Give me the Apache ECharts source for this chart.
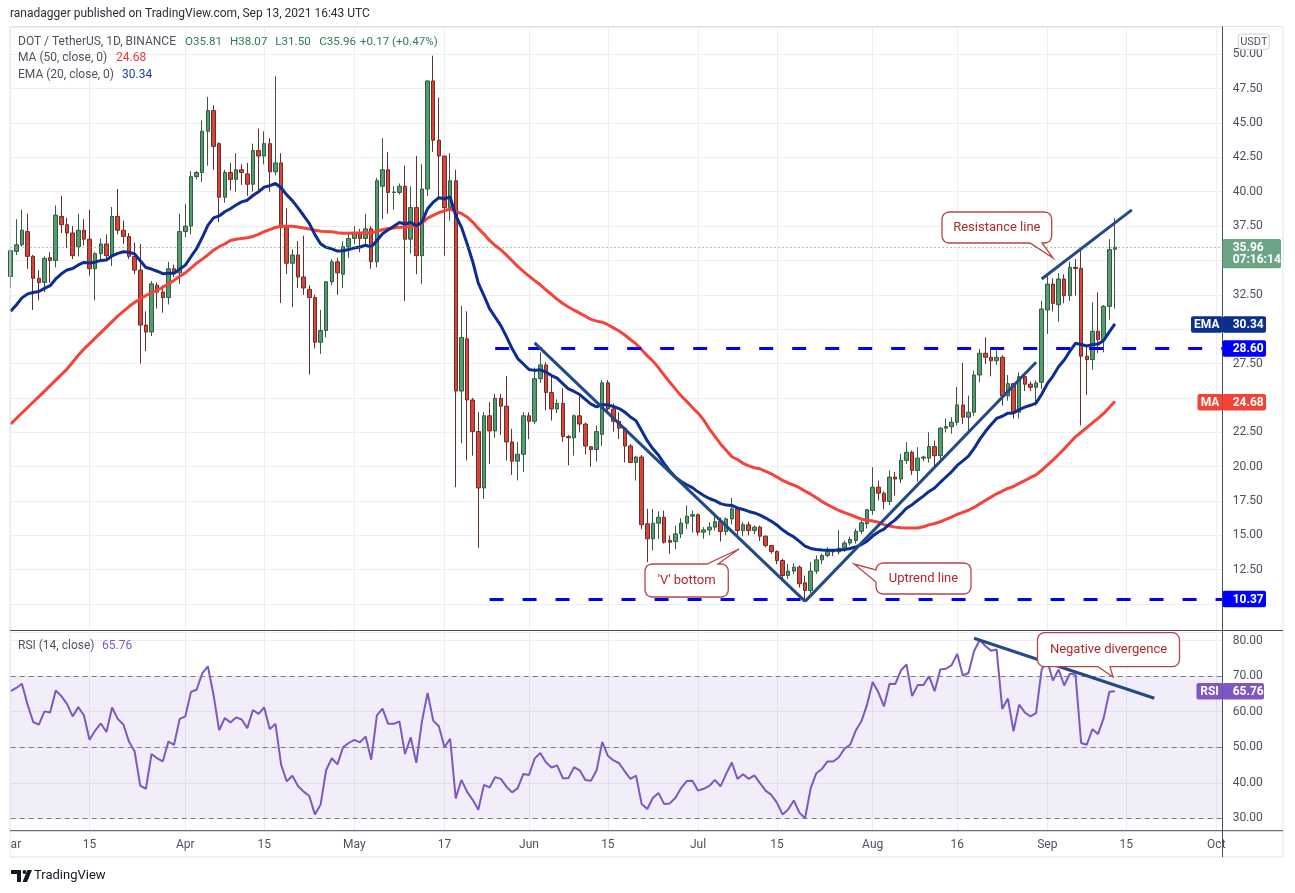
<!DOCTYPE html>
<html>
<head>
<meta charset="utf-8">
<title>DOT / TetherUS 1D</title>
<script src="https://cdn.jsdelivr.net/npm/echarts@6.0.0/dist/echarts.min.js"></script>
<style>
html,body{margin:0;padding:0;background:#ffffff;}
#chart{width:1295px;height:893px;}
</style>
</head>
<body>
<div id="chart"></div>
<script>
// ---------------- data ----------------
const startDate = '2021-03-01';
const dayCount = 216;

const open = [
33.84,35.66,36.14,37.10,35.30,33.70,33.40,35.20,35.00,38.20,
37.60,37.00,36.00,37.20,36.55,34.40,35.50,36.20,35.35,38.20,
37.20,36.75,35.30,34.30,30.30,29.80,33.20,32.70,32.30,34.40,
34.10,37.10,37.50,41.10,41.40,44.40,45.90,43.50,39.60,41.40,
40.90,41.60,41.30,40.55,43.00,42.60,43.50,41.45,42.10,37.40,
34.80,35.40,33.80,32.90,32.30,29.05,29.90,33.45,34.90,34.00,
36.00,36.60,37.00,36.60,37.30,34.90,40.40,41.60,39.95,39.95,
40.40,36.55,38.85,35.35,40.20,48.06,43.75,42.60,38.85,40.80,
25.50,29.30,24.85,22.55,18.45,23.70,22.60,24.97,24.40,21.80,
20.40,20.90,23.70,23.30,26.40,27.40,25.40,24.20,24.60,22.20,
22.10,23.70,23.10,21.45,21.25,22.35,26.10,24.20,23.30,22.80,
21.50,20.30,20.70,15.84,14.75,15.89,16.32,14.63,14.55,15.11,
15.89,16.40,16.50,15.23,15.40,15.60,16.00,15.28,16.20,16.93,
15.35,15.77,15.35,15.60,14.94,14.26,13.83,13.17,12.08,12.40,
12.69,11.55,10.99,12.40,13.22,13.54,13.90,13.80,14.07,14.44,
14.63,15.30,15.85,16.81,18.51,18.07,17.47,19.24,19.10,20.45,
21.05,19.72,20.62,20.62,21.46,20.80,22.80,22.90,23.23,24.49,
23.60,23.96,26.67,28.25,27.96,27.70,27.96,25.14,26.04,23.96,
26.55,26.00,25.77,26.14,31.40,33.28,31.78,33.65,32.44,34.50,
34.42,28.03,27.79,29.85,29.24,31.66,35.81];

const high = [
35.80,38.00,38.70,38.40,35.40,34.30,35.30,35.60,39.00,39.70,
38.10,37.50,38.40,38.00,38.70,35.60,36.60,36.90,38.90,40.20,
37.90,37.00,36.30,36.20,31.30,33.50,33.40,33.20,34.90,34.70,
38.40,39.10,41.50,41.50,45.20,46.90,46.30,43.60,41.60,42.10,
42.80,42.00,42.10,43.50,44.60,44.40,43.90,48.40,42.80,38.80,
35.80,36.40,36.80,33.20,32.50,31.40,33.50,35.10,35.20,36.40,
37.00,37.50,37.30,38.40,37.50,41.00,43.90,42.90,40.40,40.60,
41.90,40.40,42.60,42.00,48.10,49.90,46.85,42.60,42.80,41.60,
31.70,31.30,25.00,23.96,23.96,24.70,25.30,25.30,26.60,22.75,
21.80,23.96,23.96,27.20,28.30,27.60,26.70,24.90,25.70,22.30,
23.80,25.10,23.20,21.50,22.99,26.30,26.30,24.60,23.95,22.85,
21.65,20.80,20.85,16.93,16.93,16.74,16.80,14.99,15.72,16.25,
17.17,16.80,16.60,15.60,15.96,16.64,16.30,16.30,17.73,16.98,
15.96,16.00,15.72,15.72,15.00,14.30,13.90,13.30,12.93,12.98,
12.81,12.08,13.05,13.54,13.66,14.14,13.95,15.40,14.63,14.90,
15.48,16.10,16.93,19.96,18.99,18.20,19.72,19.60,20.93,21.78,
21.17,21.42,20.80,22.50,21.90,22.87,23.50,23.60,25.80,27.55,
25.17,26.99,28.56,29.41,28.56,28.68,28.10,26.67,26.10,26.86,
26.86,26.20,26.26,32.07,33.89,33.70,34.08,34.00,34.91,35.10,
35.83,28.68,31.95,32.68,31.76,36.55,38.07];

const low = [
33.00,35.40,36.00,34.40,31.40,32.10,32.70,33.40,34.50,37.00,
35.90,35.10,35.30,36.10,33.90,32.10,35.00,35.00,34.60,36.90,
36.20,35.10,34.00,27.50,28.40,29.50,31.50,31.20,31.80,33.80,
33.30,36.70,36.90,40.90,40.70,41.90,41.60,37.80,39.20,40.10,
40.00,40.50,39.70,40.00,39.90,42.00,40.00,41.20,31.90,34.00,
31.60,33.00,32.50,26.70,28.60,28.20,29.40,33.20,32.50,33.00,
35.20,36.20,35.60,36.20,34.40,34.50,38.00,38.40,38.70,39.80,
32.07,35.50,34.00,33.30,39.70,42.90,39.50,35.35,37.90,18.50,
21.70,20.45,20.80,14.10,17.66,20.20,22.10,22.30,20.45,19.40,
19.00,19.60,22.00,23.10,26.10,24.10,23.35,23.90,21.80,20.10,
20.80,22.50,20.90,20.00,20.37,21.50,23.90,22.55,22.00,20.30,
20.30,18.99,15.47,13.05,13.90,14.75,14.40,13.66,14.00,14.80,
15.47,15.20,14.99,14.75,15.00,15.35,14.55,15.00,15.80,14.99,
14.94,15.00,15.10,14.60,14.14,13.66,12.90,11.90,11.84,12.20,
11.20,10.37,10.80,12.20,12.90,13.40,13.50,13.60,13.80,14.27,
14.40,15.10,15.50,16.50,17.54,16.90,17.20,17.90,18.80,20.20,
19.40,18.92,20.40,20.30,19.96,20.40,22.50,22.40,22.99,23.10,
22.63,23.70,26.14,27.47,26.57,27.40,24.44,24.80,23.50,23.50,
25.50,25.50,24.44,25.65,29.65,31.30,30.55,31.90,32.07,32.44,
23.00,25.22,27.06,28.27,28.32,30.69,31.50];

const close = [
35.71,36.14,37.20,35.30,33.70,33.40,35.15,35.00,38.30,37.60,
37.00,35.35,37.20,36.55,34.40,35.50,36.20,35.35,38.20,37.20,
36.75,35.30,34.30,30.30,29.80,33.30,32.70,32.30,34.40,34.10,
37.10,37.50,41.10,41.40,44.40,45.90,43.30,39.60,41.40,40.90,
41.60,41.40,40.55,43.00,42.60,43.50,41.45,42.10,37.40,34.80,
35.40,33.80,33.00,32.30,29.05,29.90,33.45,34.90,34.10,36.00,
36.60,37.00,36.60,37.30,34.90,40.80,41.60,39.95,39.98,40.40,
36.55,38.85,35.35,40.20,48.06,43.75,42.60,38.85,40.80,25.50,
29.40,24.85,22.55,18.45,23.70,22.60,24.97,24.40,21.80,20.40,
20.90,23.70,23.30,26.40,27.40,25.40,24.20,24.60,22.20,22.10,
23.70,23.10,21.50,21.25,22.55,26.10,24.20,23.30,22.80,21.50,
20.30,20.70,15.77,14.75,15.89,16.32,14.50,14.50,15.11,15.89,
16.40,16.50,15.23,15.40,15.60,16.00,15.28,16.20,16.93,15.35,
15.77,15.35,15.60,14.94,14.26,13.83,13.17,12.08,12.40,12.69,
11.48,10.99,12.40,13.22,13.54,13.90,13.80,14.07,14.44,14.70,
15.30,15.92,16.86,18.51,18.07,17.47,19.24,19.10,20.45,21.05,
19.72,20.62,20.70,21.46,20.80,22.80,22.92,23.23,24.49,23.60,
23.96,26.67,28.25,27.96,27.70,27.96,25.14,26.04,23.96,26.55,
26.00,25.77,26.09,31.47,33.28,31.88,33.65,32.44,34.50,34.42,
28.03,27.79,29.85,29.24,31.66,35.79,35.96];

// MA(50) for the days whose 50-day window starts before Mar 1
const maEarly = [
23.1,23.5,23.9,24.3,24.7,25.1,25.5,25.9,26.3,26.7,
27.1,27.6,28.1,28.55,28.95,29.35,29.75,30.15,30.55,30.95,
31.3,31.65,31.95,32.2,32.45,32.65,32.85,33.05,33.3,33.55,
33.85,34.1,34.45,34.8,35.1,35.4,35.75,36.0,36.2,36.45,
36.55,36.6,36.65,36.75,36.9,37.1,37.25,37.4,37.5];
const emaSeed = 31.3;   // EMA(20) value read on Mar 1

const rsi = [
65.8,66.7,67.9,62.0,57.1,56.4,60.1,59.8,66.0,64.4,
62.2,58.7,61.3,59.0,52.1,54.7,56.7,54.3,61.2,58.0,
56.4,51.6,48.8,39.2,38.3,48.1,46.9,46.0,51.6,50.7,
58.0,58.7,65.6,66.2,70.8,72.8,64.8,54.8,58.2,57.0,
58.4,57.8,55.4,60.5,59.4,61.2,55.1,56.6,45.1,40.4,
42.0,39.1,37.5,36.3,31.1,33.8,43.6,46.9,45.2,50.0,
51.2,52.1,51.4,53.0,46.5,59.0,60.9,56.6,56.6,57.3,
48.1,52.8,45.6,57.3,65.3,57.5,55.9,50.0,52.4,35.6,
40.8,37.5,35.2,32.4,39.4,38.7,41.6,41.1,38.9,37.3,
38.5,42.5,42.2,46.8,48.4,45.8,44.3,44.9,41.3,41.3,
44.4,43.5,40.8,40.6,43.5,51.5,47.6,46.3,45.5,43.2,
41.1,42.0,34.0,32.6,35.8,37.1,34.0,34.2,35.8,38.5,
40.5,40.6,37.8,38.3,39.1,40.8,39.0,42.5,45.7,41.1,
42.4,41.1,42.1,39.9,37.8,36.6,34.4,31.1,32.5,35.0,
31.6,30.0,38.5,42.7,43.9,46.0,46.0,47.2,49.6,50.7,
54.7,57.3,62.0,68.4,65.5,61.5,67.9,67.8,71.6,73.3,
64.4,67.5,67.5,70.0,65.8,71.9,72.1,73.1,76.3,70.2,
70.9,77.1,80.2,78.5,77.2,77.5,60.8,63.7,54.5,62.0,
59.8,58.7,59.6,71.9,74.2,68.8,71.9,67.4,70.7,70.5,
51.2,50.7,55.1,53.7,58.2,65.6,65.76];

const timeLabelIdx = [0,14,31,45,61,77,92,106,122,136,153,168,184,198,214];
const timeLabels   = ['Mar','15','Apr','15','May','17','Jun','15','Jul','15','Aug','16','Sep','15','Oct'];

const lastOpen = 35.81, lastHigh = 38.07, lastLow = 31.50, lastClose = 35.96;
const lastChange = '+0.17 (+0.47%)';
const lastMA = 24.68, lastEMA = 30.34, lastRSI = 65.76;
const barCountdown = '07:16:14';
const levelResistance = 28.60, levelSupport = 10.37;

// trend lines: [dayIndex, price]
const vLeft  = [[93, 29.0], [141, 10.2]];
const vRight = [[141, 10.2], [182, 27.6]];
const resistLine = [[183, 33.65], [199, 38.68]];
const rsiDivergence = [[171, 80.7], [203, 63.8]];
const resistanceStart = 86, supportStart = 85;

// ---------------- derived ----------------
const dates = [];
(function(){
  const t0 = Date.parse(startDate + 'T00:00:00Z');
  for (let i = 0; i < dayCount; i++) dates.push(new Date(t0 + i*86400000).toISOString().slice(0,10));
})();
const labelAt = {};
timeLabelIdx.forEach((k,i) => { labelAt[k] = timeLabels[i]; });
const isLabelDay = (i) => labelAt[i] !== undefined;

const ohlc = open.map((o,i) => [o, close[i], low[i], high[i]]);
const ema = [];
(function(){ let e = emaSeed; close.forEach((c,i) => { if (i > 0) e = e + (c - e) * 2 / 21; ema.push(+e.toFixed(3)); }); })();
const ma = close.map((c,i) => {
  if (i < 49) return maEarly[i];
  let s = 0; for (let k = i - 49; k <= i; k++) s += close[k];
  return +(s / 50).toFixed(3);
});

const FONT = 'Roboto, "Noto Sans", "DejaVu Sans", sans-serif';
const GRID_LEFT = 10.67, STEP = 5.634, GRID_W = STEP * (dayCount - 1);
const AXIS_X = 1222.5;
const LABEL_X = 1232.7;
const TXT = '#4c525e';
const GRIDC = '#eceef2';
const TREND = '#214a87';
const DASHBLUE = '#0000ff';

const coveredPrices = [lastClose, lastEMA, levelResistance, lastMA, levelSupport];
function priceLabel(v){
  for (const h of coveredPrices) if (Math.abs(v - h) < 1.0) return '';
  return v.toFixed(2);
}

const chart = echarts.init(document.getElementById('chart'), null, {renderer:'canvas', width:1295, height:893});

function xAxisFor(gi, withLabels){
  return {
    type:'category', gridIndex:gi, data:dates, boundaryGap:false,
    axisLine:{show:false}, axisTick:{show:false},
    axisLabel: withLabels ? {
      show:true, interval:(i)=>isLabelDay(i), formatter:(v,i)=>labelAt[i] || '',
      color:TXT, fontSize:12, fontFamily:FONT, margin:8
    } : {show:false},
    splitLine:{show:true, interval:(i)=>isLabelDay(i), lineStyle:{color:GRIDC, width:1}},
    axisPointer:{show:false}
  };
}

const option = {
  animation:false,
  backgroundColor:'#ffffff',
  textStyle:{fontFamily:FONT},
  grid:[
    {left:GRID_LEFT, top:27, width:GRID_W, height:603, containLabel:false, outerBoundsMode:'none'},
    {left:GRID_LEFT, top:632, width:GRID_W, height:198.7, containLabel:false, outerBoundsMode:'none'}
  ],
  xAxis:[ xAxisFor(0,false), xAxisFor(1,true) ],
  yAxis:[
    {type:'value', gridIndex:0, position:'right', min:8.116, max:51.986,
     minInterval:2.5, maxInterval:2.5, splitNumber:18,
     axisLine:{show:false}, axisTick:{show:false},
     axisLabel:{margin:LABEL_X-(GRID_LEFT+GRID_W), color:TXT, fontSize:12, fontFamily:FONT,
                padding:[2,0,0,0],
                formatter:priceLabel, showMinLabel:false, showMaxLabel:false},
     splitLine:{show:true, lineStyle:{color:GRIDC, width:1}}},
    {type:'value', gridIndex:1, position:'right', min:26.51, max:82.45,
     minInterval:10, maxInterval:10, splitNumber:6,
     axisLine:{show:false}, axisTick:{show:false},
     axisLabel:{margin:LABEL_X-(GRID_LEFT+GRID_W), color:TXT, fontSize:12, fontFamily:FONT,
                padding:[2,0,0,0],
                formatter:(v)=>v.toFixed(2), showMinLabel:false, showMaxLabel:false},
     splitLine:{show:true, lineStyle:{color:GRIDC, width:1}}}
  ],
  series:[
    {
      type:'candlestick', name:'DOT', xAxisIndex:0, yAxisIndex:0, data:ohlc,
      barWidth:4, clip:true,
      itemStyle:{color:'#4f9d70', color0:'#d9443a', borderColor:'#36593f', borderColor0:'#6a2e27', borderWidth:1},
      emphasis:{disabled:true},
      markLine:{
        symbol:'none', silent:true, animation:false, label:{show:false}, emphasis:{disabled:true},
        data:[
          [{coord:[dates[0], lastClose], lineStyle:{color:'#5a9a76', width:1, type:[1,3]}},
           {coord:[dates[dayCount-1], lastClose]}],
          [{coord:[dates[resistanceStart], levelResistance], lineStyle:{color:DASHBLUE, width:3, type:[14,19]}},
           {coord:[dates[dayCount-1], levelResistance]}],
          [{coord:[dates[supportStart], levelSupport], lineStyle:{color:DASHBLUE, width:3, type:[14,19]}},
           {coord:[dates[dayCount-1], levelSupport]}]
        ]
      }
    },
    {
      type:'line', name:'MA 50', xAxisIndex:0, yAxisIndex:0, data:ma,
      symbol:'none', showSymbol:false, smooth:false,
      lineStyle:{color:'#f4433a', width:3}, emphasis:{disabled:true}
    },
    {
      type:'line', name:'EMA 20', xAxisIndex:0, yAxisIndex:0, data:ema,
      symbol:'none', showSymbol:false, smooth:false,
      lineStyle:{color:'#0c2d91', width:3}, emphasis:{disabled:true},
      markLine:{
        symbol:'none', silent:true, animation:false, label:{show:false}, emphasis:{disabled:true},
        lineStyle:{color:TREND, width:3, type:'solid'},
        data:[vLeft, vRight, resistLine].map(seg => [
          {coord:[dates[seg[0][0]], seg[0][1]]}, {coord:[dates[seg[1][0]], seg[1][1]]}
        ])
      }
    },
    {
      type:'line', name:'RSI', xAxisIndex:1, yAxisIndex:1, data:rsi,
      symbol:'none', showSymbol:false,
      lineStyle:{color:'#7e57c2', width:2}, emphasis:{disabled:true},
      markArea:{silent:true, itemStyle:{color:'rgba(126,87,194,0.10)'}, data:[[{yAxis:30},{yAxis:70}]]},
      markLine:{
        symbol:'none', silent:true, animation:false, label:{show:false}, emphasis:{disabled:true},
        data:[
          {yAxis:70, lineStyle:{color:'#787b86', width:1, type:[5,4]}},
          {yAxis:50, lineStyle:{color:'#787b86', width:1, type:[5,4]}},
          {yAxis:30, lineStyle:{color:'#787b86', width:1, type:[5,4]}},
          [{coord:[dates[rsiDivergence[0][0]], rsiDivergence[0][1]], lineStyle:{color:TREND, width:3, type:'solid'}},
           {coord:[dates[rsiDivergence[1][0]], rsiDivergence[1][1]]}]
        ]
      }
    }
  ]
};
chart.setOption(option);

// ---------------- overlay (frame, legend, axis tags, callouts) ----------------
const yP = v => chart.convertToPixel({yAxisIndex:0}, v);
const yR = v => chart.convertToPixel({yAxisIndex:1}, v);

function txt(text, x, y, fill, size, o){
  o = o || {};
  const al = o.align || 'left';
  return {type:'text', z:o.z || 300, silent:true,
    style:{text:text, x:x, y:y, fill:fill, font:(o.weight||'normal') + ' ' + size + 'px ' + FONT,
           textAlign:al, textVerticalAlign:'middle', align:al, verticalAlign:'middle'}};
}
function rect(x, y, w, h, fill, o){
  o = o || {};
  return {type:'rect', z:o.z || 250, silent:true, shape:{x:x, y:y, width:w, height:h, r:o.r == null ? 2 : o.r},
          style:{fill:fill, stroke:o.stroke || null, lineWidth:o.lw || 1}};
}
function line(x1, y1, x2, y2, color, w, z){
  return {type:'line', z:z || 240, silent:true, shape:{x1:x1, y1:y1, x2:x2, y2:y2}, style:{stroke:color, lineWidth:w || 1}};
}
function calloutPoints(x, y, w, h, r, side, a, b, tx, ty){
  const pts = [];
  const arc = (cx, cy, a0, a1) => { for (let k = 0; k <= 4; k++){ const t = (a0 + (a1 - a0) * k / 4) * Math.PI / 180; pts.push([cx + r*Math.cos(t), cy + r*Math.sin(t)]); } };
  arc(x + r, y + r, 180, 270);
  if (side === 'top'){ pts.push([a, y], [tx, ty], [b, y]); }
  arc(x + w - r, y + r, 270, 360);
  arc(x + w - r, y + h - r, 0, 90);
  if (side === 'bottom'){ pts.push([b, y + h], [tx, ty], [a, y + h]); }
  arc(x + r, y + h - r, 90, 180);
  if (side === 'left'){ pts.push([x, b], [tx, ty], [x, a]); }
  return pts;
}
function callout(text, x, y, w, h, side, a, b, tx, ty){
  return [
    {type:'polygon', z:260, silent:true, shape:{points:calloutPoints(x, y, w, h, 7, side, a, b, tx, ty)},
     style:{fill:'#ffffff', stroke:'#b5474b', lineWidth:1.3}},
    txt(text, x + w/2, y + h/2, '#b0282e', 13, {align:'center', z:261})
  ];
}
function axisTag(value, yPix, color, name, tagX, tagW, valW){
  const h = 16.5;
  const els = [rect(AXIS_X, yPix - h/2, valW || 43.5, h, color),
               txt(value, LABEL_X, yPix + 0.5, '#ffffff', 12, {weight:'bold'})];
  if (name){
    els.push(rect(tagX, yPix - h/2, tagW, h, color));
    els.push(txt(name, tagX + tagW/2, yPix + 0.5, '#ffffff', 12, {weight:'bold', align:'center'}));
  }
  return els;
}

const g = [];
// frame and pane separators
g.push({type:'rect', z:230, silent:true, shape:{x:10, y:26.5, width:1273, height:830.5}, style:{fill:null, stroke:'#e0e3eb', lineWidth:1}});
g.push(line(10, 630.5, 1283, 630.5, '#4a4d57', 1));
g.push(line(10, 830.7, 1283, 830.7, '#4a4d57', 1));
g.push(line(AXIS_X, 26.5, AXIS_X, 857, '#4a4d57', 1));
g.push(rect(0, 832, 9.8, 24, '#ffffff', {r:0, z:235}));

// header + legends
g.push(txt('ranadagger published on TradingView.com, Sep 13, 2021 16:43 UTC', 10, 14, '#2a2e39', 12));
g.push(txt('DOT / TetherUS, 1D, BINANCE', 18, 41.7, '#50535e', 12));
const legGreen = '#2e7d55';
g.push(txt('O' + lastOpen.toFixed(2), 185, 41.7, legGreen, 11.6));
g.push(txt('H' + lastHigh.toFixed(2), 230, 41.7, legGreen, 11.6));
g.push(txt('L' + lastLow.toFixed(2), 275.3, 41.7, legGreen, 11.6));
g.push(txt('C' + lastClose.toFixed(2), 319.3, 41.7, legGreen, 11.6));
g.push(txt(lastChange, 360, 41.7, legGreen, 11.6));
g.push(txt('MA (50, close, 0)', 18, 58.3, '#50535e', 12));
g.push(txt(lastMA.toFixed(2), 116, 58.3, '#f23645', 12));
g.push(txt('EMA (20, close, 0)', 18, 75, '#50535e', 12));
g.push(txt(lastEMA.toFixed(2), 122, 75, '#1e3fa0', 12));
g.push(txt('RSI (14, close)', 18, 645.5, '#50535e', 12));
g.push(txt(lastRSI.toFixed(2), 102, 645.5, '#7e57c2', 12));

// price-scale tags
g.push(rect(1238.3, 34, 31, 15.3, '#ffffff', {r:3, stroke:'#c9ccd3'}));
g.push(txt('USDT', 1253.8, 41.9, '#50535e', 11, {align:'center', z:301}));
const yc = yP(lastClose);
g.push(rect(AXIS_X, yc - 8.3, 58.5, 29.3, '#6ba584'));
g.push(txt(lastClose.toFixed(2), LABEL_X, yc + 0.5, '#ffffff', 12, {weight:'bold'}));
g.push(txt(barCountdown, LABEL_X, yc + 13, '#ffffff', 12, {weight:'bold'}));
axisTag(lastEMA.toFixed(2), yP(lastEMA), '#0c2f8f', 'EMA', 1191, 31.5).forEach(e => g.push(e));
axisTag(levelResistance.toFixed(2), yP(levelResistance), DASHBLUE).forEach(e => g.push(e));
axisTag(lastMA.toFixed(2), yP(lastMA), '#f44336', 'MA', 1197.5, 25).forEach(e => g.push(e));
axisTag(levelSupport.toFixed(2), yP(levelSupport), DASHBLUE).forEach(e => g.push(e));
axisTag(lastRSI.toFixed(2), yR(lastRSI), '#7e57c2', 'RSI', 1196.5, 26, 41.5).forEach(e => g.push(e));

// callouts
callout('Resistance line', 942, 212, 109.7, 31, 'bottom', 1030, 1042, 1053, 258).forEach(e => g.push(e));
callout("'V' bottom", 645, 564, 83.3, 33, 'top', 707, 718, 739, 549).forEach(e => g.push(e));
callout('Uptrend line', 876, 563, 95, 31, 'left', 570, 582, 854, 564).forEach(e => g.push(e));
callout('Negative divergence', 1037.5, 632.7, 142, 34, 'bottom', 1098, 1110, 1113, 677).forEach(e => g.push(e));

// TradingView logo
g.push({type:'polygon', z:300, silent:true, shape:{points:[[11,870],[21,870],[21,882],[17,882],[17,874],[11,874]]}, style:{fill:'#131722'}});
g.push({type:'circle', z:300, silent:true, shape:{cx:24.5, cy:872, r:2}, style:{fill:'#131722'}});
g.push({type:'polygon', z:300, silent:true, shape:{points:[[27.5,870],[32,870],[27,882],[22.5,882]]}, style:{fill:'#131722'}});
g.push(txt('TradingView', 34, 876, '#131722', 13));

chart.setOption({graphic:{elements:g}});
</script>
</body>
</html>
